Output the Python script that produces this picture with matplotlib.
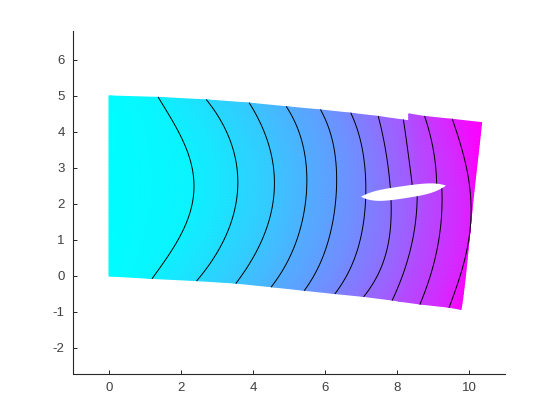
import numpy as np
from matplotlib import pyplot as plt

plt.rcParams['font.family'] = ['Liberation Sans', 'DejaVu Sans']
plt.rcParams['axes.unicode_minus'] = False

xticks = [0, 2, 4, 6, 8, 10]
yticks = [-2, -1, 0, 1, 2, 3, 4, 5, 6]

# every curve runs from the bottom edge to the top edge
left_x = [0, 0, 0, 0, 0, 0]
left_y = [0, 1.2, 2.1, 2.55, 3.7, 5]
right_x = [9.78, 10.02, 10.11, 10.16, 10.29, 10.35]
right_y = [-0.93, 1.2, 2.1, 2.55, 3.7, 4.26]

c1_x = [1.2, 2.02, 2.34, 2.35, 2.08, 1.37]
c1_y = [-0.07, 1.2, 2.1, 2.55, 3.7, 4.96]
c2_x = [2.44, 3.28, 3.55, 3.57, 3.39, 2.71]
c2_y = [-0.13, 1.2, 2.1, 2.55, 3.7, 4.89]
c3_x = [3.53, 4.33, 4.57, 4.59, 4.42, 3.9]
c3_y = [-0.2, 1.2, 2.1, 2.55, 3.7, 4.8]
c4_x = [4.51, 5.28, 5.47, 5.49, 5.37, 4.93]
c4_y = [-0.3, 1.2, 2.1, 2.55, 3.7, 4.7]
c5_x = [5.43, 6.15, 6.3, 6.32, 6.22, 5.88]
c5_y = [-0.4, 1.2, 2.1, 2.55, 3.7, 4.61]
c6_x = [6.28, 7.02, 7.13, 7.13, 7.0, 6.72]
c6_y = [-0.49, 1.2, 2.1, 2.55, 3.7, 4.52]
c7_x = [7.08, 7.8, 7.85, 7.79, 7.65, 7.48]
c7_y = [-0.57, 1.2, 2.1, 2.55, 3.7, 4.43]
c8_x = [7.87, 8.47, 8.56, 8.42, 8.27, 8.18]
c8_y = [-0.67, 1.2, 2.15, 2.55, 3.7, 4.33]
c9_x = [8.64, 9.19, 9.25, 9.1, 8.97, 8.77]
c9_y = [-0.78, 1.2, 2.3, 2.62, 3.7, 4.43]
c10_x = [9.45, 10.02, 10.05, 10.01, 9.75, 9.54]
c10_y = [-0.87, 1.2, 2.1, 2.55, 3.7, 4.35]

# step in the top edge, just right of the eighth curve
step_lo_x = [8.05, 8.62, 8.72, 8.58, 8.45, 8.33]
step_lo_y = [-0.7, 1.2, 2.15, 2.55, 3.7, 4.31]
step_hi_x = [8.05, 8.62, 8.72, 8.58, 8.45, 8.33]
step_hi_y = [-0.7, 1.2, 2.15, 2.55, 3.7, 4.5]

hole_top_x = [7.0, 7.25, 7.62, 8.36, 9.01, 9.36]
hole_top_y = [2.2, 2.31, 2.41, 2.52, 2.57, 2.51]
hole_bot_x = [7.0, 7.2, 7.62, 8.36, 9.01, 9.36]
hole_bot_y = [2.2, 2.12, 2.09, 2.18, 2.33, 2.51]

# (x, y, breaks at the hole)
columns = [(left_x, left_y, False), (c1_x, c1_y, False), (c2_x, c2_y, False),
           (c3_x, c3_y, False), (c4_x, c4_y, False), (c5_x, c5_y, False),
           (c6_x, c6_y, False), (c7_x, c7_y, False), (c8_x, c8_y, True),
           (step_lo_x, step_lo_y, True), (step_hi_x, step_hi_y, True),
           (c9_x, c9_y, True), (c10_x, c10_y, False), (right_x, right_y, False)]
levels = [0, 0.05, 0.14, 0.22, 0.31, 0.39, 0.48, 0.57, 0.66, 0.69, 0.69, 0.76, 0.88, 1]
is_contour = [0, 1, 1, 1, 1, 1, 1, 1, 1, 0, 0, 1, 1, 0]


def smooth(xs, ys, broken, n=61):
    # fits the read points with x as a function of y so the curves stay clean
    yy = np.linspace(ys[0], ys[-1], n)
    if broken:
        low = np.polyval(np.polyfit(ys[:3], xs[:3], 2), yy)
        high = np.polyval(np.polyfit(ys[3:], xs[3:], 2), yy)
        return np.where(yy < (ys[2] + ys[3]) / 2, low, high), yy
    w = [6, 1, 1, 1, 1, 6]
    return np.polyval(np.polyfit(ys, xs, 4, w=w), yy), yy


curves = [smooth(*c) for c in columns]
X = np.array([c[0] for c in curves])
Y = np.array([c[1] for c in curves])
C = np.repeat(np.array(levels)[:, None], X.shape[1], axis=1)

fig = plt.figure(figsize=(5.6, 4.2), dpi=100)
ax = fig.add_axes([73 / 560, 1 - 373.5 / 420, 432 / 560, 342 / 420])

ax.pcolormesh(X, Y, C, shading="gouraud", cmap="cool", vmin=0, vmax=1)
for (sx, sy), keep in zip(curves, is_contour):
    if keep:
        ax.plot(sx, sy, color="black", lw=0.7)

hx = 8.18 - 1.18 * np.cos(np.linspace(0, np.pi, 60))
ht = np.polyval(np.polyfit(hole_top_x, hole_top_y, 4, w=[6, 1, 1, 1, 1, 6]), hx)
hb = np.polyval(np.polyfit(hole_bot_x, hole_bot_y, 4, w=[6, 1, 1, 1, 1, 6]), hx)
ax.fill(np.r_[hx, hx[::-1]], np.r_[ht, hb[::-1]], color="white", lw=0, zorder=3)

ax.set_xlim(-1, 11)
ax.set_ylim(-2.71, 6.79)
ax.set_xticks(xticks)
ax.set_yticks(yticks)
ax.spines["top"].set_visible(False)
ax.spines["right"].set_visible(False)
for s in ["left", "bottom"]:
    ax.spines[s].set_linewidth(0.8)
    ax.spines[s].set_color("#262626")
ax.tick_params(direction="in", length=3, width=0.7, color="#262626",
               labelcolor="#404040", labelsize=9.5, pad=6)

plt.savefig("out.png", dpi=100)
